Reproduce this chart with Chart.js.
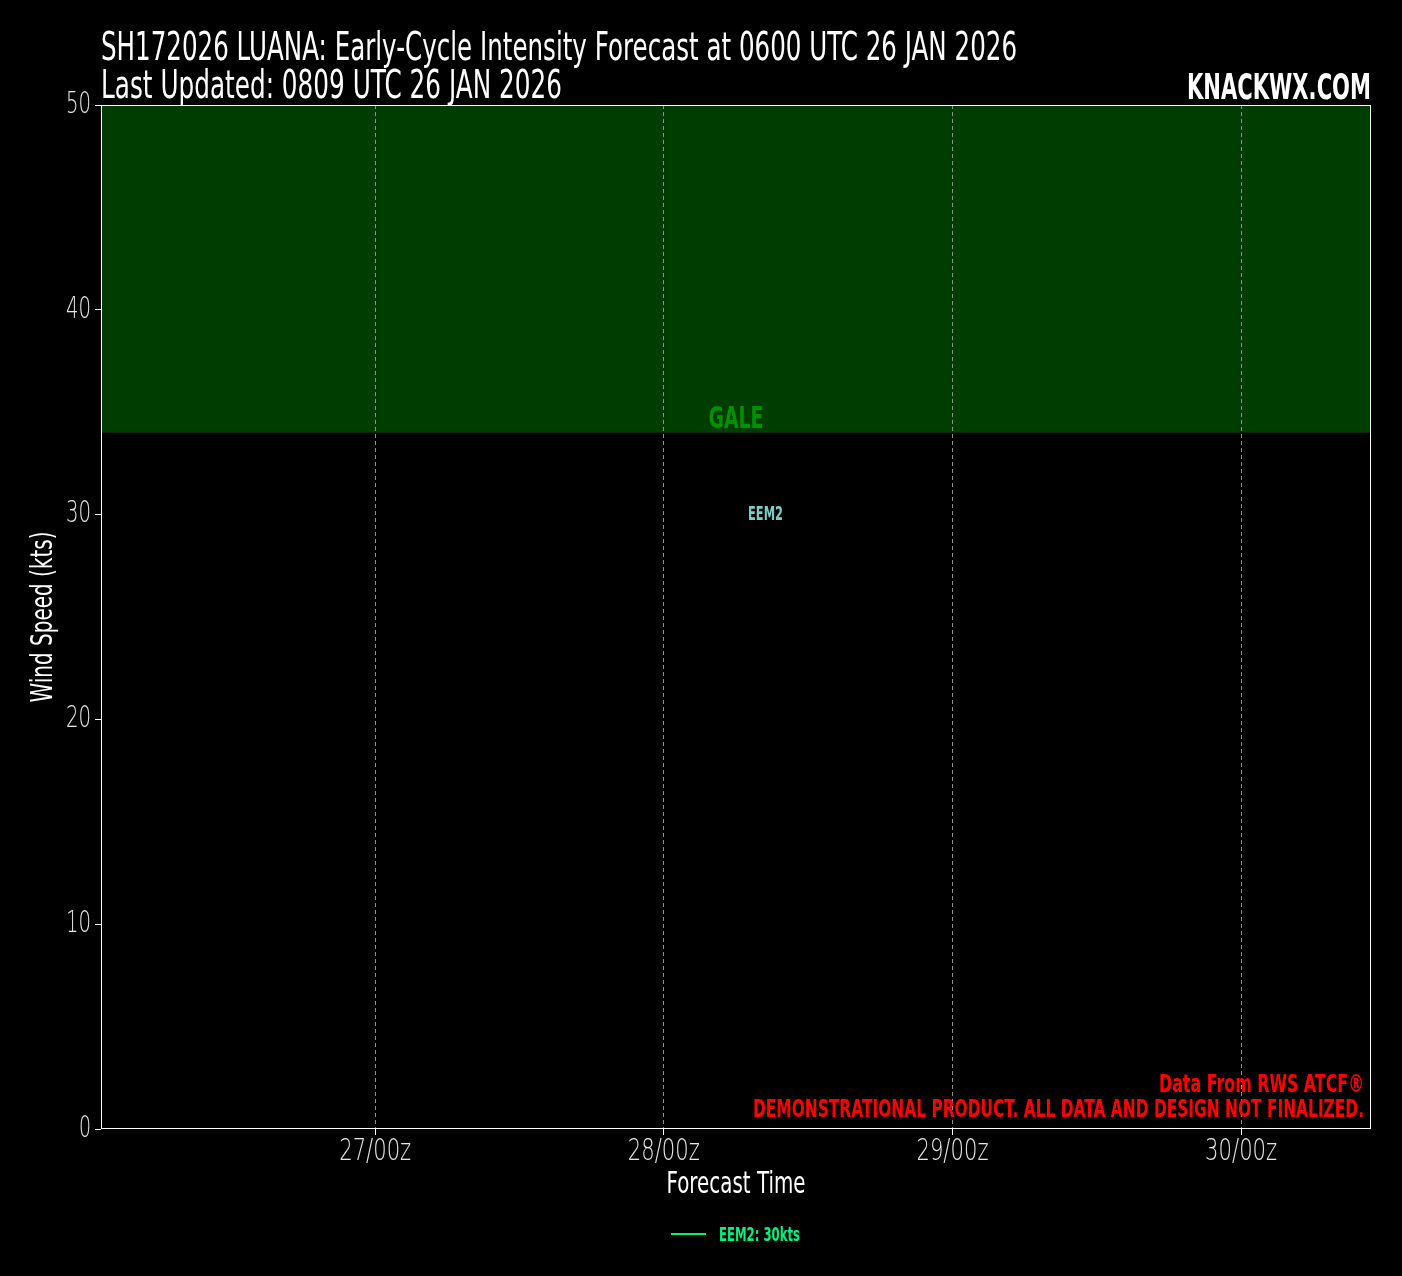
<!DOCTYPE html>
<html>
<head>
<meta charset="utf-8">
<script src="https://cdn.jsdelivr.net/npm/chart.js@4"></script>
<style>
  html, body { margin: 0; padding: 0; background: #000; }
  #wrap { width: 1402px; height: 1276px; }
</style>
</head>
<body>
<div id="wrap"><canvas id="myChart" width="1402" height="1276"></canvas></div>
<script>
// chart data
var seriesName = 'EEM2';
var forecastHours = [54];          // hours after 26/00z
var eem2Winds = [30];
var xTickHours = [24, 48, 72, 96];
var xTickLabels = ['27/00z', '28/00z', '29/00z', '30/00z'];
var yTickValues = [0, 10, 20, 30, 40, 50];
var galeRange = [34, 50];

var FONT = '"DejaVu Sans", sans-serif';

// draw text squeezed to a narrow look (no condensed font available)
function narrowText(ctx, str, x, y, align, font, width) {
    ctx.save();
    ctx.font = font;
    var w = ctx.measureText(str).width;
    var sx = width ? width / w : 0.72;
    ctx.translate(x, y);
    ctx.scale(sx, 1);
    ctx.textAlign = align;
    ctx.fillText(str, 0, 0);
    ctx.restore();
}

var decor = {
    id: 'decor',
    beforeDraw: function (chart) {
        var ctx = chart.ctx;
        ctx.save();
        ctx.fillStyle = '#000';
        ctx.fillRect(0, 0, chart.width, chart.height);
        var a = chart.chartArea, y = chart.scales.y;
        var top = y.getPixelForValue(galeRange[1]), bot = y.getPixelForValue(galeRange[0]);
        ctx.fillStyle = '#003d00';
        ctx.fillRect(a.left, top, a.right - a.left, bot - top);
        ctx.restore();
    },
    afterDraw: function (chart) {
        var ctx = chart.ctx, a = chart.chartArea, x = chart.scales.x, y = chart.scales.y;
        ctx.save();
        ctx.strokeStyle = '#fff';
        ctx.lineWidth = 1;
        ctx.strokeRect(a.left + 0.5, a.top + 0.5, a.right - a.left - 1, a.bottom - a.top - 1);
        ctx.textBaseline = 'alphabetic';

        // titles
        ctx.fillStyle = '#fff';
        narrowText(ctx, 'SH172026 LUANA: Early-Cycle Intensity Forecast at 0600 UTC 26 JAN 2026', 101, 60, 'left', '39px ' + FONT, 916);
        narrowText(ctx, 'Last Updated: 0809 UTC 26 JAN 2026', 101, 98, 'left', '39px ' + FONT, 461);
        narrowText(ctx, 'KNACKWX.COM', 1371, 99, 'right', 'bold 35px ' + FONT, 184);

        // tick labels
        ctx.fillStyle = '#e6e6e6';
        ctx.textBaseline = 'middle';
        yTickValues.forEach(function (v) {
            narrowText(ctx, String(v), 91, y.getPixelForValue(v), 'right', '200 30px ' + FONT, String(v).length === 1 ? 12 : 25);
        });
        ctx.textBaseline = 'alphabetic';
        xTickHours.forEach(function (h, i) {
            narrowText(ctx, xTickLabels[i], x.getPixelForValue(h), 1160, 'center', '200 30px ' + FONT, 72);
        });

        // gale label
        ctx.fillStyle = '#009000';
        narrowText(ctx, 'GALE', (a.left + a.right) / 2, y.getPixelForValue(galeRange[0]) - 5, 'center', 'bold 31px ' + FONT, 55);

        // series label at last point
        var n = forecastHours.length - 1;
        ctx.fillStyle = '#80cbc4';
        ctx.textBaseline = 'middle';
        narrowText(ctx, seriesName, x.getPixelForValue(forecastHours[n]) + 12, y.getPixelForValue(eem2Winds[n]), 'left', 'bold 19px ' + FONT, 35);
        ctx.textBaseline = 'alphabetic';

        // source notes
        ctx.fillStyle = '#ff0000';
        narrowText(ctx, 'Data From RWS ATCF\u00ae', 1364, 1092, 'right', 'bold 25px ' + FONT, 205);
        narrowText(ctx, 'DEMONSTRATIONAL PRODUCT. ALL DATA AND DESIGN NOT FINALIZED.', 1364, 1117, 'right', 'bold 25px ' + FONT, 611);

        // axis titles
        ctx.fillStyle = '#fff';
        narrowText(ctx, 'Forecast Time', (a.left + a.right) / 2, 1193, 'center', '31px ' + FONT, 139);
        ctx.save();
        ctx.translate(52, (a.top + a.bottom) / 2);
        ctx.rotate(-Math.PI / 2);
        narrowText(ctx, 'Wind Speed (kts)', 0, 0, 'center', '31px ' + FONT, 171);
        ctx.restore();

        // legend
        var last = eem2Winds[eem2Winds.length - 1];
        ctx.strokeStyle = '#00f080';
        ctx.lineWidth = 2;
        ctx.beginPath();
        ctx.moveTo(671, 1234);
        ctx.lineTo(706, 1234);
        ctx.stroke();
        ctx.fillStyle = '#00f080';
        narrowText(ctx, seriesName + ': ' + last + 'kts', 719, 1241, 'left', 'bold 20px ' + FONT, 81);
        ctx.restore();
    }
};

var ctx = document.getElementById('myChart').getContext('2d');
var chart = new Chart(ctx, {
    type: 'line',
    data: {
        datasets: [{
            label: seriesName,
            data: forecastHours.map(function (h, i) { return { x: h, y: eem2Winds[i] }; }),
            borderColor: '#00f080',
            borderWidth: 2,
            pointRadius: 0
        }]
    },
    options: {
        responsive: false,
        animation: false,
        devicePixelRatio: 1,
        layout: { padding: { left: 0, top: 105, right: 31, bottom: 0 } },
        plugins: { legend: { display: false }, tooltip: { enabled: false } },
        scales: {
            x: {
                type: 'linear',
                min: 1.2,
                max: 106.8,
                afterBuildTicks: function (s) { s.ticks = xTickHours.map(function (v) { return { value: v }; }); },
                afterFit: function (s) { s.height = 147; },
                ticks: { display: false },
                grid: { color: '#909090', lineWidth: 1, tickLength: 6, tickColor: '#fff', tickBorderDash: [] },
                border: { display: false, dash: [4, 3] }
            },
            y: {
                min: 0,
                max: 50,
                afterBuildTicks: function (s) { s.ticks = yTickValues.map(function (v) { return { value: v }; }); },
                afterFit: function (s) { s.width = 101; },
                ticks: { display: false },
                grid: { drawOnChartArea: false, tickLength: 6, tickColor: '#fff' },
                border: { display: false }
            }
        }
    },
    plugins: [decor]
});
</script>
</body>
</html>
